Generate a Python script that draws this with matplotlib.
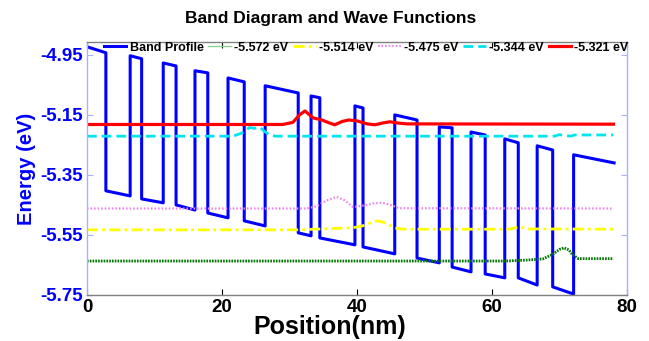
import matplotlib
matplotlib.use("Agg")
import matplotlib.pyplot as plt

plt.rcParams['font.family'] = ['Liberation Sans', 'DejaVu Sans']
plt.rcParams['font.weight'] = 'bold'

# band profile vertices (nm, eV)
band_x = [0, 2.8, 2.8, 6.4, 6.4, 8.1, 8.1, 11.3, 11.3, 13.2, 13.2, 16.0, 16.0, 17.9,
          17.9, 20.9, 20.9, 23.3, 23.3, 26.4, 26.4, 31.3, 31.3, 33.2, 33.2, 34.5, 34.5,
          39.7, 39.7, 40.9, 40.9, 45.6, 45.6, 48.9, 48.9, 52.2, 52.2, 54.1, 54.1, 56.9,
          56.9, 59.0, 59.0, 61.9, 61.9, 63.9, 63.9, 66.7, 66.7, 69.0, 69.0, 72.1, 72.1, 78.1]
band_y = [-4.923, -4.943, -5.403, -5.420, -4.953, -4.963, -5.430, -5.443, -4.977, -4.987,
          -5.450, -5.467, -5.003, -5.010, -5.477, -5.493, -5.027, -5.040, -5.503, -5.520,
          -5.053, -5.077, -5.543, -5.553, -5.087, -5.093, -5.560, -5.583, -5.120, -5.127,
          -5.590, -5.613, -5.150, -5.167, -5.627, -5.643, -5.190, -5.193, -5.657, -5.673,
          -5.207, -5.217, -5.680, -5.693, -5.230, -5.243, -5.693, -5.717, -5.253, -5.267,
          -5.723, -5.747, -5.283, -5.310]

# wave functions
green_x = [0, 62, 65, 67.5, 69, 70, 70.7, 71.4, 72, 72.8, 78]
green_y = [-5.637, -5.637, -5.634, -5.630, -5.615, -5.598, -5.593, -5.600, -5.617, -5.629, -5.629]

yellow_x = [0, 31, 35, 39.4, 40.8, 42, 43.1, 44.3, 45.6, 47, 62.5, 64, 65.5, 78]
yellow_y = [-5.533, -5.533, -5.530, -5.526, -5.520, -5.510, -5.503, -5.510, -5.527, -5.531,
            -5.531, -5.523, -5.530, -5.531]

magenta_x = [0, 32.5, 34, 35.5, 37, 38.2, 39.4, 41, 42.5, 43.7, 45, 46.2, 78]
magenta_y = [-5.462, -5.462, -5.455, -5.435, -5.423, -5.435, -5.457, -5.452, -5.445, -5.443,
             -5.450, -5.461, -5.462]

cyan_x = [0, 21.6, 22.8, 24.1, 24.8, 25.6, 26.3, 27.1, 28, 69.2, 70.0, 70.8, 71.6, 72.3, 78]
cyan_y = [-5.221, -5.221, -5.212, -5.192, -5.195, -5.191, -5.205, -5.218, -5.221, -5.221,
          -5.216, -5.218, -5.221, -5.217, -5.217]

red_x = [0, 29, 30.5, 31.5, 32.3, 33.5, 34.8, 35.8, 36.7, 37.8, 38.8, 40, 41.5, 42.7, 43.8,
         44.9, 46, 47.4, 78]
red_y = [-5.182, -5.182, -5.175, -5.150, -5.137, -5.160, -5.167, -5.176, -5.183, -5.172,
         -5.167, -5.170, -5.180, -5.183, -5.177, -5.173, -5.177, -5.180, -5.181]

labels = ['Band Profile', '-5.572 eV', '-5.514 eV', '-5.475 eV', '-5.344 eV', '-5.321 eV']

fig = plt.figure(figsize=(6.49, 3.41), dpi=100)
ax = fig.add_axes([0.134, 0.135, 0.832, 0.742])

ax.plot(band_x, band_y, color='#0000ff', lw=2.2, label=labels[0])
ax.plot(green_x, green_y, color='#007800', lw=2.0, ls=(0, (0.6, 0.4)), label=labels[1])
ax.plot(yellow_x, yellow_y, color='#ffff00', lw=2.0, ls=(0, (4, 1.5, 1, 1.5)), label=labels[2])
ax.plot(magenta_x, magenta_y, color='#f080f0', lw=1.6, ls=(0, (0.7, 0.9)), label=labels[3])
ax.plot(cyan_x, cyan_y, color='#00e5ee', lw=2.0, ls=(0, (3.5, 1.8)), label=labels[4])
ax.plot(red_x, red_y, color='#ff0000', lw=2.3, label=labels[5])

ax.set_xlim(0, 80)
ax.set_ylim(-5.75, -4.907)
ax.set_xticks([0, 20, 40, 60, 80])
ax.set_yticks([-5.75, -5.55, -5.35, -5.15, -4.95])
ax.set_yticklabels(['-5.75', '-5.55', '-5.35', '-5.15', '-4.95'])

ax.tick_params(direction='in', top=True, right=True, length=4, width=0.8)
ax.tick_params(axis='x', labelsize=13.5, colors='black', pad=3)
ax.tick_params(axis='y', labelsize=13.5, labelcolor='#0000ff', color='#aab0ff', pad=3)
for lab in ax.get_xticklabels() + ax.get_yticklabels():
    lab.set_fontweight('bold')

ax.spines['left'].set_color('#aab0ff')
ax.spines['right'].set_color('#aab0ff')
ax.spines['top'].set_color('#808080')
ax.spines['bottom'].set_color('#808080')
for s in ax.spines.values():
    s.set_linewidth(1.0)

ax.set_xlabel('Position(nm)', fontsize=18, fontweight='bold')
ax.xaxis.set_label_coords(0.45, -0.08)
ax.set_ylabel('Energy (eV)', fontsize=14.5, fontweight='bold', color='#0000ff', labelpad=3)
fig.text(0.51, 0.947, 'Band Diagram and Wave Functions', fontsize=12.5, fontweight='bold',
         ha='center', va='center')

leg = ax.legend(loc='center', bbox_to_anchor=(0.517, 0.978), ncol=6, frameon=False,
                fontsize=9, handlelength=1.8, handletextpad=0.25, columnspacing=0.4,
                borderpad=0, borderaxespad=0)
leg.get_lines()[1].set_color('#90d090')
leg.get_lines()[1].set_linestyle('-')
leg.get_lines()[1].set_linewidth(1.0)

fig.savefig('out.png', dpi=100)
